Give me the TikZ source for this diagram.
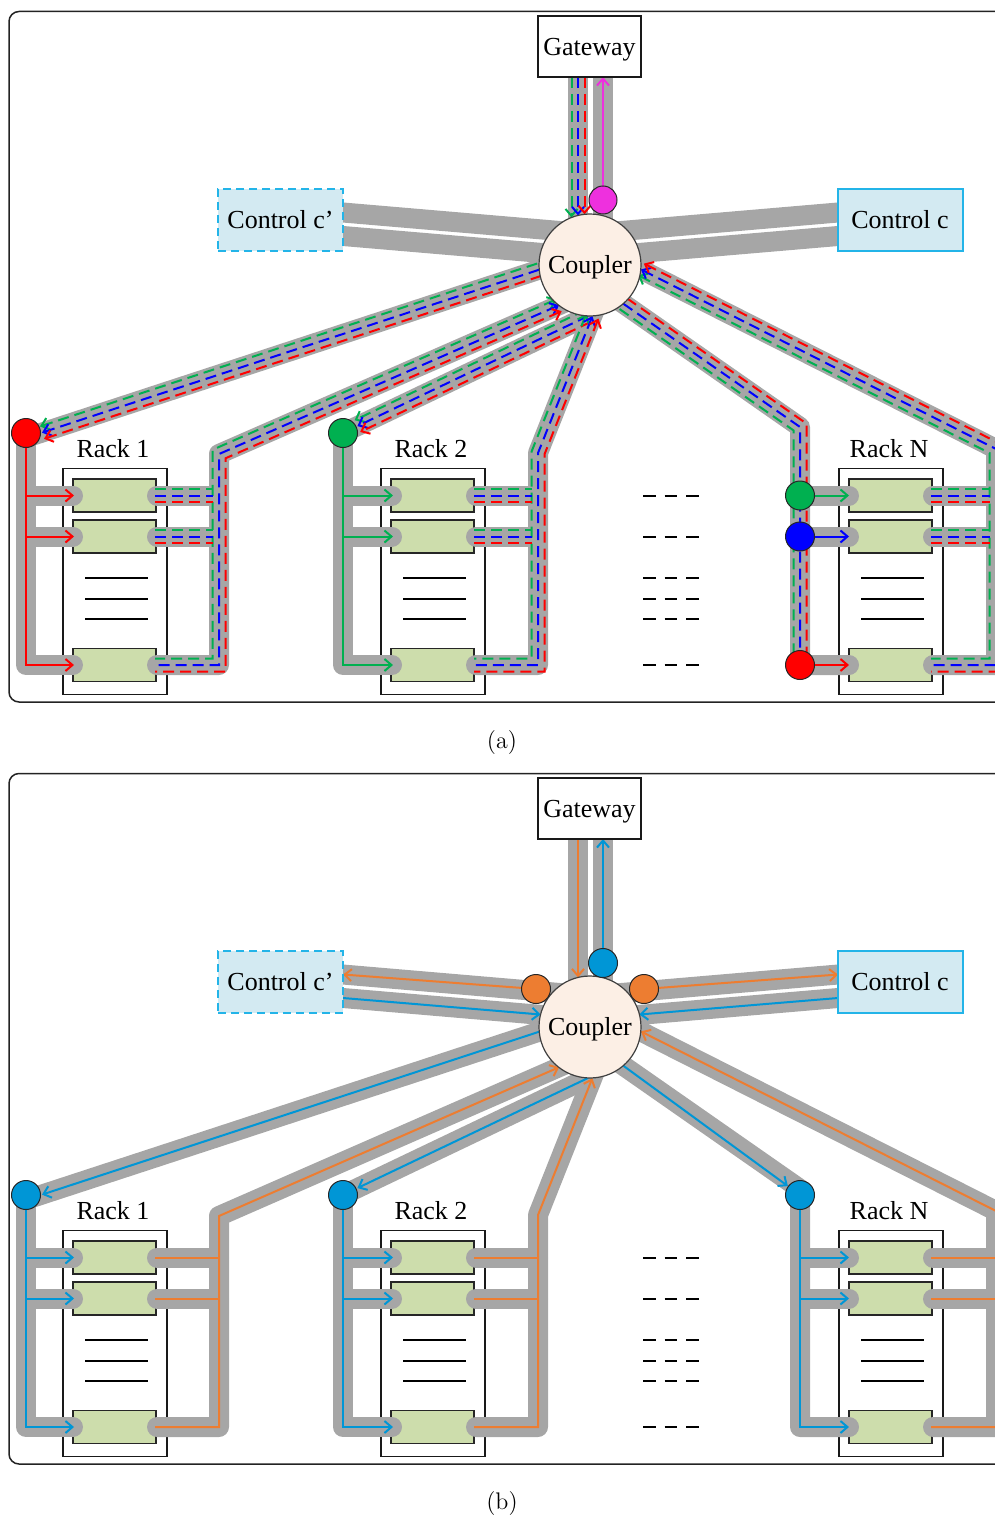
\documentclass[tikz,border=0pt]{standalone}
\usepackage{fontspec}
\newfontfamily\tnr{Liberation Serif}
\usetikzlibrary{arrows.meta,calc}

\definecolor{bandgray}{RGB}{166,166,166}
\definecolor{agreen}{RGB}{0,176,80}
\definecolor{ablue}{RGB}{0,0,255}
\definecolor{ared}{RGB}{255,0,0}
\definecolor{amag}{RGB}{238,48,222}
\definecolor{bblue}{RGB}{0,150,214}
\definecolor{borange}{RGB}{237,125,49}
\definecolor{ctrlfill}{RGB}{211,234,242}
\definecolor{ctrldraw}{RGB}{35,180,232}
\definecolor{cplfill}{RGB}{252,239,229}
\definecolor{modfill}{RGB}{205,221,172}
\definecolor{framec}{RGB}{35,35,35}

\tikzset{
  band/.style={draw=bandgray, line width=10pt, line cap=round, line join=round},
  dl/.style={line width=1pt, dash pattern=on 5.5pt off 3pt},
  sl/.style={line width=1pt},
  lbl/.style={font=\tnr\fontsize{13}{15}\selectfont, text height=8.6pt, text depth=0pt, inner sep=0pt},
  pdot/.style={circle, draw=black!85, line width=0.5pt, minimum size=14.5pt, inner sep=0pt},
  modbox/.style={draw=black!85, fill=modfill, line width=0.75pt},
  rackbox/.style={draw=black!90, fill=white, line width=0.75pt},
  ctrlbox/.style={lbl, draw=ctrldraw, fill=ctrlfill, line width=1pt, minimum width=62.5pt, minimum height=31pt},
  gwbox/.style={lbl, draw=black!90, fill=white, line width=0.75pt, minimum width=51.5pt, minimum height=30.5pt},
  cplnode/.style={lbl, circle, draw=black!75, line width=0.6pt, fill=cplfill, minimum size=51pt},
  middash/.style={line width=1pt, dash pattern=on 6.25pt off 4.5pt},
}

% offset of segment #1->#2 by #3 (positive = right of travel)
\newcommand\offseg[5]{%
  \coordinate (#4) at ($(#1)!#3!-90:(#2)$);
  \coordinate (#5) at ($(#2)!#3!90:(#1)$);
}
\newcommand\offpoly[7]{% E K B M dist style tag
  \offseg{#1}{#2}{#5}{#7p1}{#7p2}%
  \offseg{#2}{#3}{#5}{#7q1}{#7q2}%
  \offseg{#3}{#4}{#5}{#7s1}{#7s2}%
  \coordinate (#7k) at (intersection of #7p1--#7p2 and #7q1--#7q2);
  \coordinate (#7b) at (intersection of #7q1--#7q2 and #7s1--#7s2);
  \draw[#6] (#7p1) -- (#7k) -- (#7b) -- (#7s2);
}
\newcommand\offpolythree[6]{% E K B dist style tag
  \offseg{#1}{#2}{#4}{#6p1}{#6p2}%
  \offseg{#2}{#3}{#4}{#6q1}{#6q2}%
  \coordinate (#6k) at (intersection of #6p1--#6p2 and #6q1--#6q2);
  \draw[#5] (#6p1) -- (#6k) -- (#6q2);
}
\newcommand\trio[6]{% E K B M arrows tag
  \offpoly{#1}{#2}{#3}{#4}{3.25pt}{agreen,dl,#5}{#6g}%
  \offpoly{#1}{#2}{#3}{#4}{0pt}{ablue,dl,#5}{#6b}%
  \offpoly{#1}{#2}{#3}{#4}{-3.25pt}{ared,dl,#5}{#6r}%
}
\newcommand\triothree[5]{% E K B arrows tag
  \offpolythree{#1}{#2}{#3}{3.25pt}{agreen,dl,#4}{#5g}%
  \offpolythree{#1}{#2}{#3}{0pt}{ablue,dl,#4}{#5b}%
  \offpolythree{#1}{#2}{#3}{-3.25pt}{ared,dl,#4}{#5r}%
}
\newcommand\triostr[4]{% E C arrows tag
  \offseg{#1}{#2}{3.25pt}{#4g1}{#4g2}\draw[agreen,dl,#3] (#4g1) -- (#4g2);
  \offseg{#1}{#2}{0pt}{#4b1}{#4b2}\draw[ablue,dl,#3] (#4b1) -- (#4b2);
  \offseg{#1}{#2}{-3.25pt}{#4r1}{#4r2}\draw[ared,dl,#3] (#4r1) -- (#4r2);
}
\newcommand\hthree[3]{% x1 x2 y
  \draw[agreen,dl] (#1,#3-6.5) -- (#2,#3-6.5);
  \draw[ablue,dl] (#1,#3) -- (#2,#3);
  \draw[ared,dl] (#1,#3+6.5) -- (#2,#3+6.5);
}
\newcommand\rackdraw[3]{% xleft label name
  \draw[rackbox] (#1,468.5) rectangle ++(104,226);
  \draw[modbox] (#1+10,479) rectangle ++(83,33);
  \draw[modbox] (#1+10,520) rectangle ++(83,33);
  \draw[modbox] (#1+10,648.5) rectangle ++(83,33);
  \foreach \yy in {578,599,619} \draw[line width=0.9pt] (#1+22,\yy) -- ++(63,0);
  \node[lbl] (#3) at (#1+50,449) {#2};
}
\newcommand\panelback{%
  \draw[framec, line width=0.75pt, rounded corners=5pt] (9,11.5) rectangle (1015,702);
  \rackdraw{63}{Rack 1}{rk1}
  \rackdraw{381}{Rack 2}{rk2}
  \rackdraw{839}{Rack N}{rkN}
  \foreach \yy in {495.5,536.5,577.5,598.5,619,665} \draw[middash] (643,\yy) -- (699,\yy);
  % gray bands
  \draw[band] (578,265) -- (578,77);
  \draw[band] (603,265) -- (603,77);
  \draw[band] (343,212.5) -- (575,232.3);
  \draw[band] (343,236) -- (575,255.8);
  \draw[band] (838,212.5) -- (605,232.4);
  \draw[band] (838,236) -- (605,255.9);
  \draw[band] (26,437.8) -- (577.5,257.1);
  \draw[band] (575,298.2) -- (219,454) -- (219,665) -- (157,665);
  \draw[band] (157,495.5) -- (219,495.5);
  \draw[band] (157,536.5) -- (219,536.5);
  \draw[band] (26,433) -- (26,665) -- (73,665);
  \draw[band] (26,495.5) -- (73,495.5);
  \draw[band] (26,536.5) -- (73,536.5);
  \draw[band] (343,433) -- (588,316);
  \draw[band] (600.7,295) -- (538,453) -- (538,665) -- (476,665);
  \draw[band] (476,495.5) -- (538,495.5);
  \draw[band] (476,536.5) -- (538,536.5);
  \draw[band] (343,433) -- (343,665) -- (392,665);
  \draw[band] (343,495.5) -- (392,495.5);
  \draw[band] (343,536.5) -- (392,536.5);
  \draw[band] (604.8,290.8) -- (800,427) -- (800,665) -- (849,665);
  \draw[band] (800,495.5) -- (849,495.5);
  \draw[band] (800,536.5) -- (849,536.5);
  \draw[band] (612.3,255) -- (996,449) -- (996,665) -- (933,665);
  \draw[band] (933,495.5) -- (996,495.5);
  \draw[band] (933,536.5) -- (996,536.5);
}
\newcommand\panelfront{%
  \node[cplnode] (cpl) at (590,265) {Coupler};
  \node[gwbox] (gw) at (589.5,46.5) {Gateway};
  \node[ctrlbox, dash pattern=on 4pt off 2.5pt] (ccp) at (280.5,220) {Control c’};
  \node[ctrlbox] (cc) at (900,220) {Control c};
}

\begin{document}
\begin{tikzpicture}[x=0.5pt,y=-0.5pt, >={Straight Barb[length=3.5pt,width=6pt]}]
\useasboundingbox (0,0) rectangle (995,1520);
\clip (0,0) rectangle (995,1520);

% ================= panel (a)
\begin{scope}
\panelback
% gateway
\draw[agreen,dl,->] (571.5,77) -- (571.5,217.5);
\draw[ablue,dl,->] (578,77) -- (578,215.4);
\draw[ared,dl,->] (584.5,77) -- (584.5,214.3);
\coordinate (mg1) at (603,200); \coordinate (mg2) at (603,77);
\draw[amag,sl,->] (mg1) -- (mg2);
% rack 1
\coordinate (E1) at (539.2,269.7); \coordinate (C1) at (42,432.6);
\triostr{E1}{C1}{->}{ra}
\coordinate (E2) at (559.1,305.2); \coordinate (K1) at (219,454); \coordinate (B1) at (219,665); \coordinate (M1) at (155,665);
\trio{E2}{K1}{B1}{M1}{<-}{rb}
\hthree{155}{212.5}{495.5}
\hthree{155}{212.5}{536.5}
\draw[ared,sl,->] (26,447.5) -- (26,665) -- (74,665);
\draw[ared,sl,->] (26,495.5) -- (74,495.5);
\draw[ared,sl,->] (26,536.5) -- (74,536.5);
% rack 2
\coordinate (E3) at (588,316); \coordinate (C2) at (357.4,426.1);
\triostr{E3}{C2}{->}{rc}
\coordinate (E4) at (592.4,316.1); \coordinate (K2) at (538,453); \coordinate (B2) at (538,665); \coordinate (M2) at (474,665);
\trio{E4}{K2}{B2}{M2}{<-}{rd}
\hthree{474}{531.5}{495.5}
\hthree{474}{531.5}{536.5}
\draw[agreen,sl,->] (343,447.5) -- (343,665) -- (393,665);
\draw[agreen,sl,->] (343,495.5) -- (393,495.5);
\draw[agreen,sl,->] (343,536.5) -- (393,536.5);
% rack N
\coordinate (E5) at (623.3,303.7); \coordinate (KN) at (800,427); \coordinate (BN) at (800,665);
\triothree{E5}{KN}{BN}{}{re}
\draw[agreen,sl,->] (800,495.5) -- (849,495.5);
\draw[ablue,sl,->] (800,536.5) -- (849,536.5);
\draw[ared,sl,->] (800,665) -- (849,665);
\coordinate (E6) at (640.9,269.4); \coordinate (KR) at (996,449); \coordinate (BR) at (996,665); \coordinate (MR) at (931,665);
\trio{E6}{KR}{BR}{MR}{<-}{rf}
\hthree{931}{989.5}{495.5}
\hthree{931}{989.5}{536.5}
\panelfront
% dots
\node[pdot, fill=amag, minimum size=14pt] (am) at (603,200) {};
\node[pdot, fill=ared] (a1) at (26,433) {};
\node[pdot, fill=agreen] (a2) at (343,433) {};
\node[pdot, fill=agreen] (a3) at (800,495.5) {};
\node[pdot, fill=ablue] (a4) at (800,536.5) {};
\node[pdot, fill=ared] (a5) at (800,665) {};
\node[font=\fontsize{12}{14}\selectfont] (la) at (502,743) {(a)};
\end{scope}

% ================= panel (b)
\begin{scope}[yshift=-381pt]
\panelback
\coordinate (g1) at (578,77); \coordinate (g2) at (578,215.4);
\draw[borange,sl,->] (g1) -- (g2);
\coordinate (g3) at (603,201); \coordinate (g4) at (603,77);
\draw[bblue,sl,->] (g3) -- (g4);
\coordinate (o1) at (536,227); \coordinate (c1) at (343,212.5);
\draw[borange,sl,->] (o1) -- (c1);
\coordinate (c2) at (343,236); \coordinate (e2) at (540.6,252.5);
\draw[bblue,sl,->] (c2) -- (e2);
\coordinate (o2) at (644,227); \coordinate (c3) at (838,212.5);
\draw[borange,sl,->] (o2) -- (c3);
\coordinate (c4) at (838,236); \coordinate (e4) at (639.4,252.5);
\draw[bblue,sl,->] (c4) -- (e4);
% rack 1
\coordinate (E1) at (539.2,269.7); \coordinate (C1) at (42,432.6);
\draw[bblue,sl,->] (E1) -- (C1);
\coordinate (E2) at (559.1,305.2); \coordinate (K1) at (219,454); \coordinate (B1) at (219,665); \coordinate (M1) at (155,665);
\draw[borange,sl,->] (M1) -- (B1) -- (K1) -- (E2);
\draw[borange,sl] (155,495.5) -- (219,495.5);
\draw[borange,sl] (155,536.5) -- (219,536.5);
\draw[bblue,sl,->] (26,447.5) -- (26,665) -- (74,665);
\draw[bblue,sl,->] (26,495.5) -- (74,495.5);
\draw[bblue,sl,->] (26,536.5) -- (74,536.5);
% rack 2
\coordinate (E3) at (588,316); \coordinate (C2) at (357.4,426.1);
\draw[bblue,sl,->] (E3) -- (C2);
\coordinate (E4) at (592.4,316.1); \coordinate (K2) at (538,453); \coordinate (B2) at (538,665); \coordinate (M2) at (474,665);
\draw[borange,sl,->] (M2) -- (B2) -- (K2) -- (E4);
\draw[borange,sl] (474,495.5) -- (538,495.5);
\draw[borange,sl] (474,536.5) -- (538,536.5);
\draw[bblue,sl,->] (343,447.5) -- (343,665) -- (393,665);
\draw[bblue,sl,->] (343,495.5) -- (393,495.5);
\draw[bblue,sl,->] (343,536.5) -- (393,536.5);
% rack N
\coordinate (E5) at (623.3,303.7); \coordinate (CN) at (787.9,424.1);
\draw[bblue,sl,->] (E5) -- (CN);
\draw[bblue,sl,->] (800,447.5) -- (800,665) -- (849,665);
\draw[bblue,sl,->] (800,495.5) -- (849,495.5);
\draw[bblue,sl,->] (800,536.5) -- (849,536.5);
\coordinate (E6) at (640.9,269.4); \coordinate (KR) at (996,449); \coordinate (BR) at (996,665); \coordinate (MR) at (931,665);
\draw[borange,sl,->] (MR) -- (BR) -- (KR) -- (E6);
\draw[borange,sl] (931,495.5) -- (996,495.5);
\draw[borange,sl] (931,536.5) -- (996,536.5);
\panelfront
\node[pdot, fill=bblue] (bg) at (603,201) {};
\node[pdot, fill=borange] (bo1) at (536,227) {};
\node[pdot, fill=borange] (bo2) at (644,227) {};
\node[pdot, fill=bblue] (b1) at (26,433) {};
\node[pdot, fill=bblue] (b2) at (343,433) {};
\node[pdot, fill=bblue] (b3) at (800,433) {};
\node[font=\fontsize{12}{14}\selectfont] (lb) at (502,741) {(b)};
\end{scope}
\end{tikzpicture}
\end{document}
